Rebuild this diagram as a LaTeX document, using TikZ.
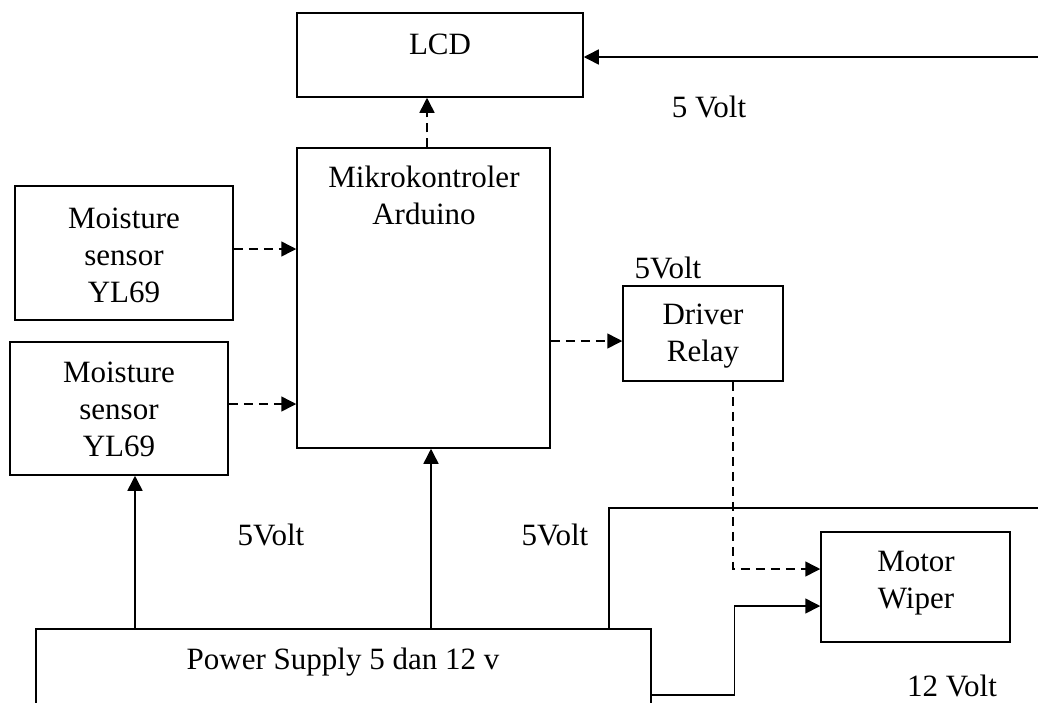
\documentclass[tikz,border=0pt]{standalone}
\usepackage{fontspec}
\setmainfont{Liberation Serif}
\usetikzlibrary{arrows.meta,calc}
\begin{document}
\begin{tikzpicture}[x=1pt,y=-1pt,
  box/.style={draw,line width=1.5pt,rectangle,inner sep=0pt},
  txt/.style={font=\fontsize{31}{37}\selectfont,align=center,inner sep=0pt},
  conn/.style={line width=1.5pt,-{Triangle[length=15pt,width=15pt]}},
  dconn/.style={conn,dash pattern=on 9pt off 6pt},
  wire/.style={line width=1.5pt}]
\useasboundingbox (0,0) rectangle (1038,702);
\clip (0,0) rectangle (1038,702);
% boxes
\node[box,minimum width=286pt,minimum height=84pt] (lcd) at (440,55) {};
\node[box,minimum width=253pt,minimum height=300pt] (mk) at (423.5,298) {};
\node[box,minimum width=218pt,minimum height=134pt] (m1) at (124,253) {};
\node[box,minimum width=218pt,minimum height=133pt] (m2) at (119,408.5) {};
\node[box,minimum width=160pt,minimum height=95pt] (rl) at (703,333.5) {};
\node[box,minimum width=189pt,minimum height=110pt] (mo) at (915.5,587) {};
\node[box,minimum width=615pt,minimum height=120pt] (ps) at (343.5,689) {};
% texts
\node[txt] (lcdT) at (440,44) {LCD};
\node[txt] (mkT) at (424,195) {Mikrokontroler\\Arduino};
\node[txt] (m1T) at (124,255) {Moisture\\sensor\\YL69};
\node[txt] (m2T) at (119,409) {Moisture\\sensor\\YL69};
\node[txt] (rlT) at (703,336) {Driver\\Relay};
\node[txt] (moT) at (916,583) {Motor\\Wiper};
\node[txt] (psT) at (343,662) {Power Supply 5 dan 12 v};
\node[txt] (v1) at (709,107) {5 Volt};
\node[txt] (v2) at (668,268) {5Volt};
\node[txt] (v3) at (271,535) {5Volt};
\node[txt] (v4) at (555,535) {5Volt};
\node[txt] (v5) at (952,686) {12 Volt};
% connectors
\coordinate (lcdIn) at (1038,57);
\draw[conn] (lcdIn) -- (lcdIn -| lcd.east);
\coordinate (a1) at ($(mk.north)+(3.5,0)$);
\draw[dconn] (a1) -- (a1 |- lcd.south);
\coordinate (a2) at ($(m1.east)+(0,-4)$);
\draw[dconn] (a2) -- (a2 -| mk.west);
\coordinate (a3) at ($(m2.east)+(0,-4.5)$);
\draw[dconn] (a3) -- (a3 -| mk.west);
\coordinate (a4) at ($(mk.east)+(0,43)$);
\draw[dconn] (a4) -- (a4 -| rl.west);
\coordinate (a5) at ($(rl.south)+(30,0)$);
\coordinate (a6) at ($(mo.west)+(0,-18)$);
\draw[dconn] (a5) |- (a6);
\coordinate (p1) at ($(ps.north)+(-208.5,0)$);
\draw[conn] (p1) -- (p1 |- m2.south);
\coordinate (p2) at ($(ps.north)+(87.5,0)$);
\draw[conn] (p2) -- (p2 |- mk.south);
\coordinate (p3) at ($(ps.north)+(265.5,0)$);
\coordinate (o2) at (1038,508);
\draw[wire] (p3) |- (o2);
\coordinate (p4) at ($(ps.east)+(0,6)$);
\coordinate (a7) at ($(mo.west)+(0,19)$);
\draw[conn] (p4) -| ($(a7)+(-86,0)$) -- (a7);
\end{tikzpicture}
\end{document}
